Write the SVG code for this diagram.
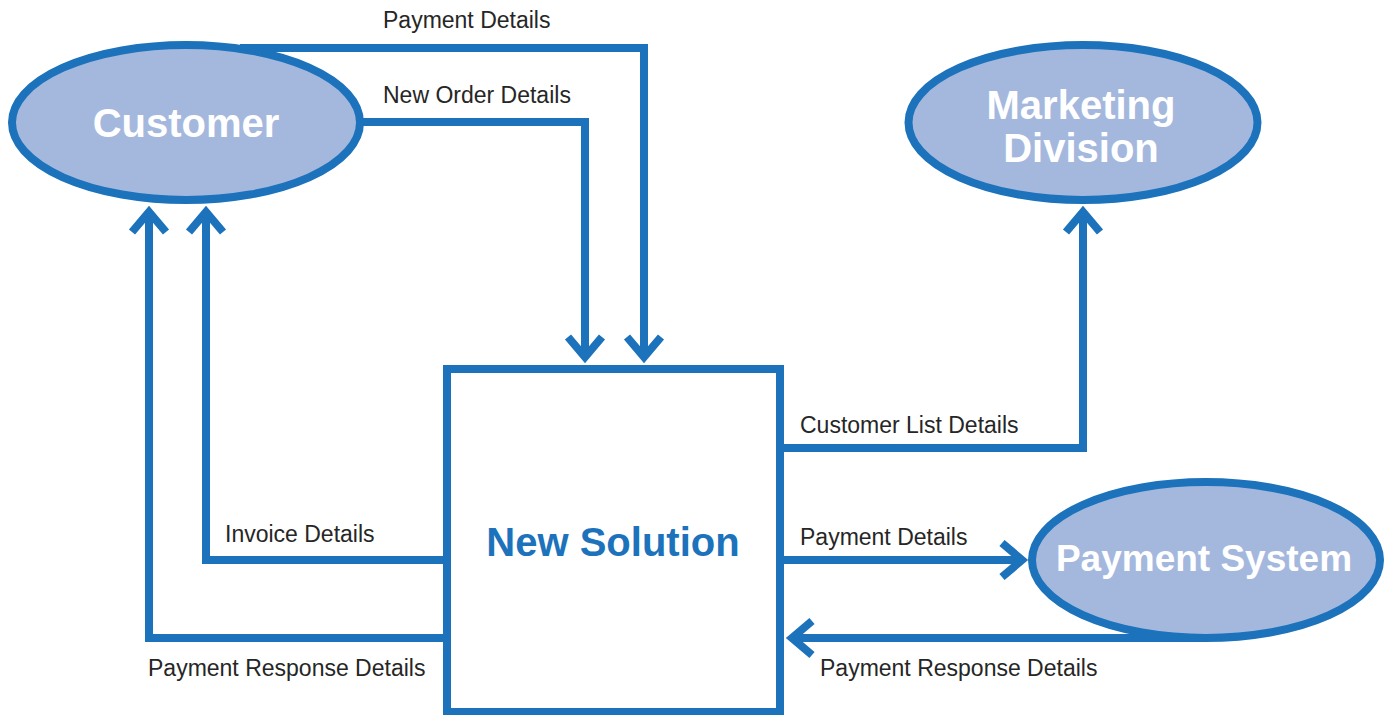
<svg xmlns="http://www.w3.org/2000/svg" width="1387" height="715" viewBox="0 0 1387 715">
<style>
.ent{fill:#a4b8de;stroke:#1c72bb;stroke-width:8}
.box{fill:#ffffff;stroke:#1c72bb;stroke-width:8}
.ent-t{font-family:"Liberation Sans",Arial,sans-serif;font-weight:bold;font-size:40px;fill:#ffffff;text-anchor:middle}
.box-t{font-family:"Liberation Sans",Arial,sans-serif;font-weight:bold;font-size:40px;fill:#1c72bb;text-anchor:middle}
.flow{fill:none;stroke:#1c72bb;stroke-width:8;stroke-linejoin:miter}
.lbl{font-family:"Liberation Sans",Arial,sans-serif;font-size:23px;fill:#262626}
</style>
<defs>
<marker id="chev" markerUnits="userSpaceOnUse" viewBox="-30 -25 40 50" markerWidth="40" markerHeight="50" refX="0" refY="0" orient="auto" overflow="visible">
<path d="M-20,-17 L0,0 L-20,17" fill="none" stroke="#1c72bb" stroke-width="8"/>
</marker>
</defs>
<g id="connectors">
<path class="flow" d="M240,48 H644 V357" marker-end="url(#chev)"/>
<path class="flow" d="M355,122 H585 V357" marker-end="url(#chev)"/>
<path class="flow" d="M447,560 H206 V212" marker-end="url(#chev)"/>
<path class="flow" d="M447,638 H149 V212" marker-end="url(#chev)"/>
<path class="flow" d="M780,448 H1083 V212" marker-end="url(#chev)"/>
<path class="flow" d="M780,560 H1022" marker-end="url(#chev)"/>
<path class="flow" d="M1204,638 H792" marker-end="url(#chev)"/>
</g>
<g id="customer">
<ellipse class="ent" cx="186" cy="122.5" rx="174" ry="77.5"/>
<text class="ent-t" x="186" y="137">Customer</text>
</g>
<g id="marketing-division">
<ellipse class="ent" cx="1083" cy="122.5" rx="174.5" ry="77.5"/>
<text class="ent-t" x="1081" y="119">Marketing</text>
<text class="ent-t" x="1081" y="162">Division</text>
</g>
<g id="payment-system">
<ellipse class="ent" cx="1206" cy="560" rx="174" ry="78"/>
<text class="ent-t" x="1204" y="571" style="font-size:37px">Payment System</text>
</g>
<g id="new-solution">
<rect class="box" x="447" y="369" width="333" height="343"/>
<text class="box-t" x="613" y="556">New Solution</text>
</g>
<g id="labels">
<text class="lbl" x="383" y="28">Payment Details</text>
<text class="lbl" x="383" y="103">New Order Details</text>
<text class="lbl" x="800" y="433">Customer List Details</text>
<text class="lbl" x="225" y="542">Invoice Details</text>
<text class="lbl" x="800" y="545">Payment Details</text>
<text class="lbl" x="148" y="676">Payment Response Details</text>
<text class="lbl" x="820" y="676">Payment Response Details</text>
</g>
</svg>
